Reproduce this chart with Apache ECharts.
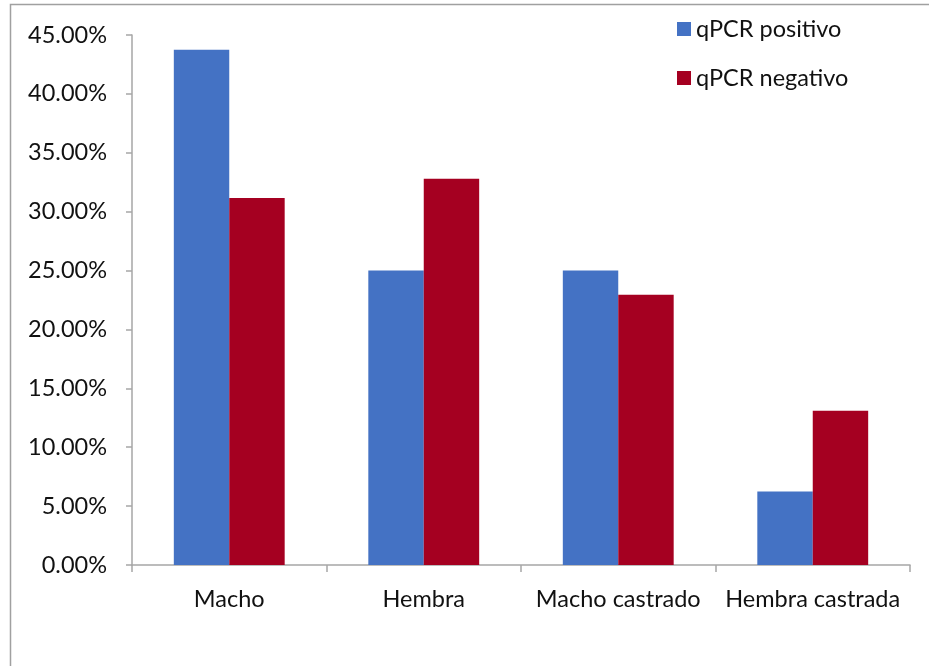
<!DOCTYPE html>
<html>
<head>
<meta charset="utf-8">
<script src="https://cdn.jsdelivr.net/npm/echarts@6/dist/echarts.min.js"></script>
<style>
  html, body { margin: 0; padding: 0; background: #fff; }
  #chart { width: 929px; height: 666px; }
</style>
</head>
<body>
<div id="chart"></div>
<script>
// Categories and percentages (in %) per qPCR result
const categories = ['Macho', 'Hembra', 'Macho castrado', 'Hembra castrada'];
const positivo = [43.75, 25.0, 25.0, 6.25];
const negativo = [31.15, 32.8, 22.95, 13.1];
const seriesNames = ['qPCR positivo', 'qPCR negativo'];

const FONT = 'Lato';
const TEXT = '#111';
const AXIS = '#a6a6a6';
const FS = 23.5;

const chart = echarts.init(document.getElementById('chart'), null, { renderer: 'canvas' });

chart.setOption({
  animation: false,
  backgroundColor: '#fff',
  graphic: [{
    type: 'rect',
    shape: { x: 10.5, y: 4.5, width: 940, height: 700 },
    style: { fill: 'none', stroke: '#a0a0a0', lineWidth: 1.5 },
    silent: true,
    z: -1
  }],
  legend: {
    orient: 'vertical',
    left: 672,
    top: 12,
    itemWidth: 14,
    itemHeight: 14,
    itemGap: 25,
    icon: 'rect',
    textStyle: { fontFamily: FONT, fontSize: FS, lineHeight: 24, color: TEXT, padding: [0, 0, 0, 0] },
    data: seriesNames
  },
  grid: { left: 132, right: 19, top: 35, bottom: 101, containLabel: false },
  xAxis: {
    type: 'category',
    data: categories,
    axisLine: { lineStyle: { color: AXIS, width: 1.5 } },
    axisTick: { show: true, length: 7, lineStyle: { color: AXIS, width: 1.5 } },
    axisLabel: { fontFamily: FONT, fontSize: FS, color: TEXT, margin: 22, interval: 0 }
  },
  yAxis: {
    type: 'value',
    min: 0,
    max: 45,
    interval: 5,
    axisLine: { show: true, lineStyle: { color: AXIS, width: 1.5 } },
    axisTick: { show: true, length: 6, lineStyle: { color: AXIS, width: 1.5 } },
    splitLine: { show: false },
    axisLabel: {
      fontFamily: FONT, fontSize: FS, color: TEXT, margin: 25,
      formatter: v => v.toFixed(2) + '%'
    }
  },
  series: [
    {
      name: seriesNames[0], type: 'bar', data: positivo,
      itemStyle: { color: '#4472C4' },
      barGap: '0%', barCategoryGap: '43%'
    },
    {
      name: seriesNames[1], type: 'bar', data: negativo,
      itemStyle: { color: '#A50021' },
      barGap: '0%', barCategoryGap: '43%'
    }
  ]
});
</script>
</body>
</html>
